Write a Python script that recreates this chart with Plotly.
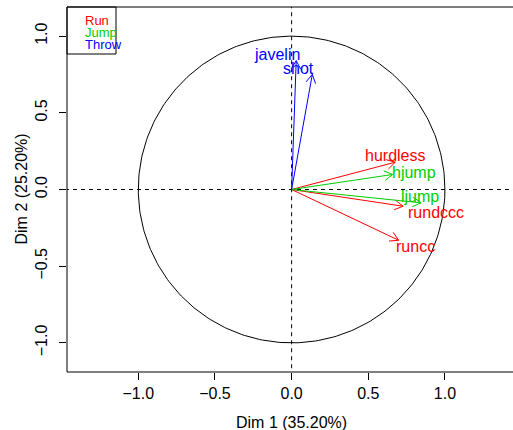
import math
import plotly.graph_objects as go

# ---- data ----
variables = ["hurdless", "hjump", "ljump", "rundccc", "runcc", "javelin", "shot"]
groups = ["Run", "Jump", "Jump", "Run", "Run", "Throw", "Throw"]
dim1 = [0.676, 0.659, 0.844, 0.727, 0.698, 0.030, 0.135]
dim2 = [0.178, 0.098, -0.087, -0.109, -0.331, 0.840, 0.750]
label_x = [0.674, 0.796, 0.840, 0.943, 0.807, -0.098, 0.048]
label_y = [0.222, 0.109, -0.048, -0.150, -0.372, 0.880, 0.787]
legend_items = ["Run", "Jump", "Throw"]
x_ticks = [-1.0, -0.5, 0.0, 0.5, 1.0]
y_ticks = [-1.0, -0.5, 0.0, 0.5, 1.0]
x_title = "Dim 1 (35.20%)"
y_title = "Dim 2 (25.20%)"

colors = {"Run": "#FF0000", "Jump": "#00CD00", "Throw": "#0000FF"}
FONT = "Liberation Sans, Arial, sans-serif"

def fmt(v):
    s = f"{v:.1f}"
    return s.replace("-", "\u2212")

fig = go.Figure()

# correlation circle
th = [2 * math.pi * i / 360 for i in range(361)]
fig.add_trace(go.Scatter(x=[math.cos(t) for t in th], y=[math.sin(t) for t in th],
                         mode="lines", line=dict(color="black", width=1),
                         hoverinfo="skip", showlegend=False))

# dashed axes through origin
fig.add_trace(go.Scatter(x=[-2, 2], y=[0, 0], mode="lines",
                         line=dict(color="black", width=1, dash="4px,4px"),
                         hoverinfo="skip", showlegend=False))
fig.add_trace(go.Scatter(x=[0, 0], y=[-2, 2], mode="lines",
                         line=dict(color="black", width=1, dash="4px,4px"),
                         hoverinfo="skip", showlegend=False))

# arrows (shaft + open head)
head = 0.063
ang = math.radians(30)
for g in legend_items:
    xs, ys = [], []
    for v, grp, x, y in zip(variables, groups, dim1, dim2):
        if grp != g:
            continue
        xs += [0, x, None]
        ys += [0, y, None]
        a = math.atan2(y, x)
        for s in (1, -1):
            xs += [x, x - head * math.cos(a + s * ang), None]
            ys += [y, y - head * math.sin(a + s * ang), None]
    fig.add_trace(go.Scatter(x=xs, y=ys, mode="lines",
                             line=dict(color=colors[g], width=1),
                             hoverinfo="skip", showlegend=False))

annotations = []
for v, grp, lx, ly in zip(variables, groups, label_x, label_y):
    annotations.append(dict(x=lx, y=ly, xref="x", yref="y", text=v, showarrow=False,
                            xanchor="center", yanchor="middle",
                            font=dict(family=FONT, size=16, color=colors[grp])))

# legend text (inside box at top-left)
for i, g in enumerate(legend_items):
    annotations.append(dict(x=0, y=1, xref="paper", yref="paper", text=g, showarrow=False,
                            xanchor="left", yanchor="middle", xshift=16, yshift=-13 - 12 * i,
                            font=dict(family=FONT, size=13, color=colors[g])))

# axis titles
annotations.append(dict(x=0, y=0, xref="x", yref="paper", text=x_title, showarrow=False,
                        xanchor="center", yanchor="middle", yshift=-50,
                        font=dict(family=FONT, size=16, color="black")))
annotations.append(dict(x=0, y=0, xref="paper", yref="y", text=y_title, showarrow=False,
                        textangle=-90, xanchor="center", yanchor="middle", xshift=-46,
                        font=dict(family=FONT, size=16, color="black")))

shapes = [
    dict(type="line", xref="paper", yref="paper", x0=0, x1=0, y0=0, y1=1,
         line=dict(color="black", width=1)),
    dict(type="line", xref="paper", yref="paper", x0=0, x1=1.01, y0=1, y1=1,
         line=dict(color="black", width=1)),
    dict(type="line", xref="paper", yref="paper", x0=0, x1=1.01, y0=0, y1=0,
         line=dict(color="black", width=1)),
    # legend box
    dict(type="rect", xref="paper", yref="paper", x0=0, y0=0, x1=49, y1=-47,
         xsizemode="pixel", ysizemode="pixel", xanchor=0, yanchor=1,
         line=dict(color="black", width=1)),
]

fig.update_layout(
    width=513, height=430,
    margin=dict(l=67, r=0, t=7, b=58, autoexpand=False),
    paper_bgcolor="white", plot_bgcolor="white",
    showlegend=False,
    font=dict(family=FONT, size=16, color="black"),
    annotations=annotations, shapes=shapes,
    xaxis=dict(range=[-1.465, 1.444], showgrid=False, zeroline=False, showline=False,
               automargin=False,
               ticks="outside", ticklen=7, tickcolor="black", tickwidth=1,
               tickvals=x_ticks, ticktext=[fmt(v) for v in x_ticks],
               tickfont=dict(family=FONT, size=16, color="black")),
    yaxis=dict(range=[-1.19, 1.19], showgrid=False, zeroline=False, showline=False,
               automargin=False, ticklabelstandoff=6,
               ticks="outside", ticklen=7, tickcolor="black", tickwidth=1,
               tickvals=y_ticks, ticktext=[fmt(v) for v in y_ticks], tickangle=-90,
               tickfont=dict(family=FONT, size=16, color="black")),
)

fig.write_html("out.html", config={"displayModeBar": False},
               post_script="document.body.style.margin='0';")
